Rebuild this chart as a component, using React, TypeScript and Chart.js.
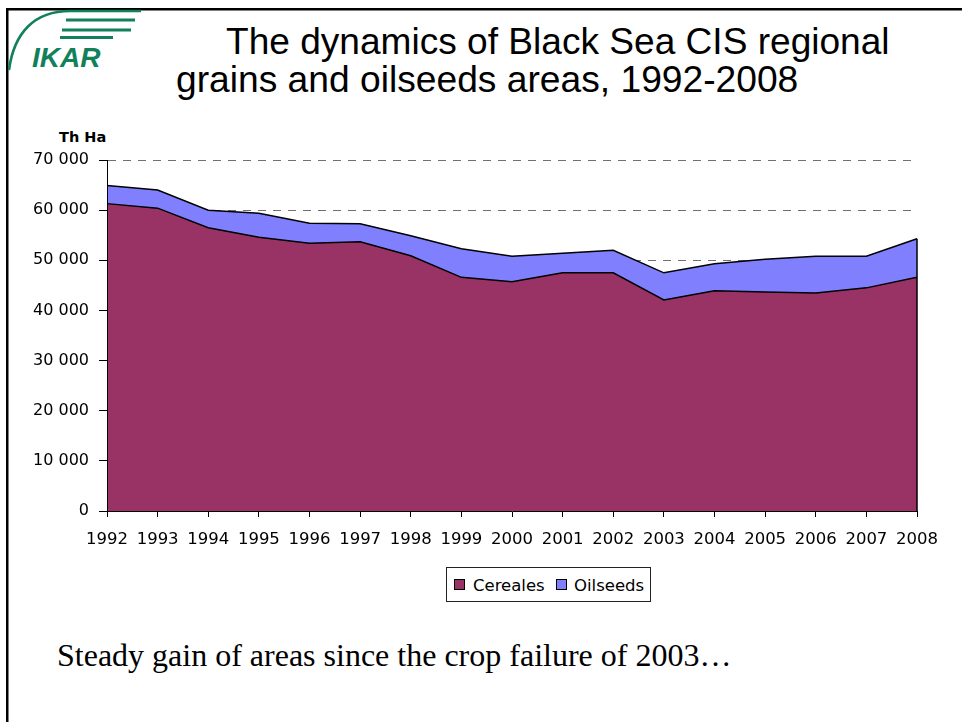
import React, { useEffect, useRef } from 'react';
import { Chart, registerables } from 'chart.js';

Chart.register(...registerables);

// Sown areas, thousand hectares
const years = ['1992', '1993', '1994', '1995', '1996', '1997', '1998', '1999', '2000',
  '2001', '2002', '2003', '2004', '2005', '2006', '2007', '2008'];
const cereals = [61300, 60400, 56500, 54600, 53400, 53700, 50900, 46600, 45700,
  47500, 47500, 42100, 43900, 43700, 43500, 44500, 46600];
const oilseeds = [3600, 3600, 3500, 4800, 4000, 3600, 4000, 5700, 5100,
  3900, 4500, 5400, 5400, 6500, 7300, 6300, 7700];
const seriesNames = ['Cereales', 'Oilseeds'];
const seriesColors = ['#993366', '#8080ff'];
const yMax = 70000;
const yStep = 10000;

const titleLines = ['The dynamics of Black Sea CIS regional', 'grains and oilseeds areas, 1992-2008'];
const unitLabel = 'Th Ha';
const footnote = 'Steady gain of areas since the crop failure of 2003\u2026';

const AXIS_FONT = '"DejaVu Sans", Verdana, sans-serif';
const GREEN = '#12805a';

const withSpaces = (v: number) => String(v).replace(/\B(?=(\d{3})+(?!\d))/g, ' ');

// Closes the stacked area on its right side, as spreadsheet area charts do
const rightEdge = {
  id: 'rightEdge',
  afterDatasetsDraw(chart: any) {
    const meta = chart.getDatasetMeta(chart.data.datasets.length - 1);
    const pt = meta.data[meta.data.length - 1];
    if (!pt) return;
    const y0 = chart.scales.y.getPixelForValue(0);
    const ctx = chart.ctx;
    ctx.save();
    ctx.strokeStyle = '#000';
    ctx.lineWidth = 1.5;
    ctx.beginPath();
    ctx.moveTo(pt.x, pt.y);
    ctx.lineTo(pt.x, y0);
    ctx.stroke();
    ctx.restore();
  },
};

function AreaChart() {
  const ref = useRef<HTMLCanvasElement | null>(null);

  useEffect(() => {
    if (!ref.current) return;
    const chart = new Chart(ref.current, {
      type: 'line',
      data: {
        labels: years,
        datasets: [
          {
            label: seriesNames[0],
            data: cereals,
            fill: 'origin',
            backgroundColor: seriesColors[0],
            borderColor: '#000',
            borderWidth: 1.5,
            pointRadius: 0,
            tension: 0,
          },
          {
            label: seriesNames[1],
            data: oilseeds,
            fill: '-1',
            backgroundColor: seriesColors[1],
            borderColor: '#000',
            borderWidth: 1.5,
            pointRadius: 0,
            tension: 0,
          },
        ],
      },
      options: {
        responsive: false,
        animation: false,
        devicePixelRatio: 1,
        layout: { padding: { left: 27, right: 45, top: 160, bottom: 171 } },
        plugins: { legend: { display: false }, tooltip: { enabled: false } },
        scales: {
          x: {
            type: 'category',
            offset: false,
            grid: {
              drawOnChartArea: false,
              drawTicks: true,
              tickLength: 6,
              tickColor: '#000',
              tickWidth: 1,
            },
            border: { display: true, color: '#000', width: 1, z: 1 },
            ticks: {
              color: '#000',
              font: { family: AXIS_FONT, size: 16.5 },
              padding: 13,
              maxRotation: 0,
              autoSkip: false,
            },
            afterFit: (s: any) => { s.height = 40; },
          },
          y: {
            stacked: true,
            min: 0,
            max: yMax,
            grid: {
              color: '#707070',
              lineWidth: 1,
              tickLength: 8,
              tickColor: '#000',
              tickWidth: 1,
              tickBorderDash: [],
            },
            border: { display: true, color: '#000', width: 1, dash: [8, 7], z: 1 },
            ticks: {
              stepSize: yStep,
              color: '#000',
              font: { family: AXIS_FONT, size: 16 },
              padding: 10,
              callback: (v: any) => withSpaces(Number(v)),
            },
            afterFit: (s: any) => { s.width = 80; },
          },
        },
      },
      plugins: [rightEdge],
    } as any);
    return () => chart.destroy();
  }, []);

  return (
    <canvas
      ref={ref}
      width={962}
      height={722}
      style={{ position: 'absolute', left: 0, top: 0, width: 962, height: 722 }}
    />
  );
}

function Slide() {
  return (
    <svg
      width={962}
      height={722}
      style={{ position: 'absolute', left: 0, top: 0 }}
    >
      <rect x={0} y={0} width={962} height={722} fill="#fff" />
      {/* slide frame */}
      <rect x={6} y={8} width={956} height={2.5} fill="#000" />
      <rect x={6} y={8} width={2.5} height={714} fill="#000" />

      {/* IKAR logo */}
      <path d="M 9 70 C 14 32 35 11 70 11 L 141 11" fill="none" stroke={GREEN} strokeWidth={2.6} />
      <rect x={66} y={18.5} width={69} height={3} fill={GREEN} />
      <rect x={62} y={28.5} width={69} height={3} fill={GREEN} />
      <rect x={60} y={36} width={53} height={3} fill={GREEN} />
      <text x={32} y={67} fill={GREEN} fontFamily='"Liberation Sans", Arial, sans-serif'
        fontWeight="bold" fontStyle="italic" fontSize={28}>IKAR</text>

      {/* title */}
      <text x={226} y={53.5} fill="#000" fontFamily='"Liberation Sans", Arial, sans-serif' fontSize={37.1}>
        {titleLines[0]}
      </text>
      <text x={176} y={92} fill="#000" fontFamily='"Liberation Sans", Arial, sans-serif' fontSize={37.2}>
        {titleLines[1]}
      </text>

      {/* unit */}
      <text x={59} y={142} fill="#000" fontFamily={AXIS_FONT} fontWeight="bold" fontSize={14.5}>
        {unitLabel}
      </text>

      {/* legend */}
      <rect x={446.5} y={567.5} width={204} height={34} fill="#fff" stroke="#222" strokeWidth={1} />
      <rect x={454.5} y={579.5} width={10} height={10} fill={seriesColors[0]} stroke="#000" strokeWidth={1} />
      <text x={473} y={590.5} fill="#000" fontFamily={AXIS_FONT} fontSize={16.5}>{seriesNames[0]}</text>
      <rect x={556.5} y={579.5} width={10} height={10} fill={seriesColors[1]} stroke="#000" strokeWidth={1} />
      <text x={574} y={590.5} fill="#000" fontFamily={AXIS_FONT} fontSize={16.5}>{seriesNames[1]}</text>

      {/* comment under the chart */}
      <text x={57} y={666} fill="#000" fontFamily='"Liberation Serif", "Times New Roman", serif' fontSize={32}>
        {footnote}
      </text>
    </svg>
  );
}

export default function App() {
  return (
    <div style={{ position: 'absolute', left: 0, top: 0, width: 962, height: 722, background: '#fff' }}>
      <Slide />
      <AreaChart />
    </div>
  );
}
